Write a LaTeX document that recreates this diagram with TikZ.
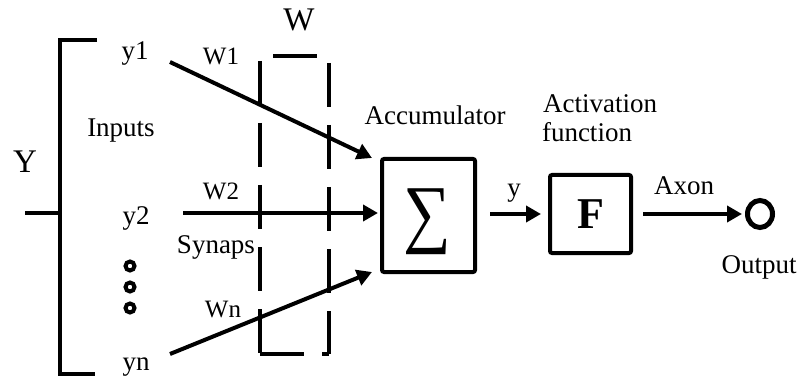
\documentclass[tikz,border=0pt]{standalone}
\usepackage{fontspec}
\setmainfont{Liberation Serif}
\usetikzlibrary{arrows.meta,shapes.geometric}
\begin{document}
\begin{tikzpicture}[x=1pt,y=-1pt,
  lbl/.style={anchor=base,inner sep=0pt,font=\fontsize{27}{30}\selectfont},
  wlbl/.style={anchor=base,inner sep=0pt,font=\fontsize{25}{28}\selectfont},
  big/.style={anchor=base,inner sep=0pt,font=\fontsize{33}{36}\selectfont},
  heavy/.style={line width=4pt},
  arr/.style={line width=4pt,-{Triangle[length=15pt,width=16pt]}},
  box/.style={draw,line width=4pt,rounded corners=2pt,inner sep=0pt},
  dashline/.style={line width=4pt,dash pattern=on 44pt off 18pt},
  dotring/.style={circle,draw,line width=4pt,minimum size=9pt,inner sep=0pt},
]
\useasboundingbox (0,0) rectangle (802,379);

% bracket of inputs
\draw[heavy] (97,40) -- (60,40) -- (60,374) -- (95,374);
\draw[heavy] (25,213) -- (60,213);

% labels
\node[big] (Y) at (25,173) {Y};
\node[big] (W) at (299,31) {W};
\node[lbl] (y1) at (135,60) {y1};
\node[lbl] (y2) at (136,225) {y2};
\node[lbl] (yn) at (136,370) {yn};
\node[lbl] (inputs) at (121,137) {Inputs};
\node[wlbl] (w1) at (221,65) {W1};
\node[wlbl] (w2) at (221,200) {W2};
\node[wlbl] (wn) at (223,317) {Wn};
\node[lbl] (syn) at (216,253) {Synaps};
\node[lbl] (acc) at (435,125) {Accumulator};
\node[lbl] (act) at (600,113) {Activation};
\node[lbl] (fun) at (587,142) {function};
\node[lbl] (ylab) at (514,197) {y};
\node[lbl] (axon) at (684,195) {Axon};
\node[lbl] (out) at (759,273) {Output};

% dots
\node[dotring] (d1) at (130,266) {};
\node[dotring] (d2) at (130,287) {};
\node[dotring] (d3) at (130,308) {};

% dashed weight box
\draw[dashline,dash phase=49pt] (260,56) -- (329,56);
\draw[dashline,dash phase=57pt] (260,56) -- (260,354);
\draw[dashline,dash phase=55pt] (329,56) -- (329,354);
\draw[dashline] (260,354) -- (329,354);

% boxes
\node[box,minimum width=93pt,minimum height=113pt] (sum) at (428.5,215.5) {};
\node[inner sep=0pt] (sig) at (427.5,222) {\scalebox{0.88}[1]{\fontsize{76}{76}\selectfont ∑}};
\node[box,minimum width=81pt,minimum height=78pt,font=\bfseries\fontsize{44}{44}\selectfont] (F) at (590.5,214) {F};
\node[ellipse,draw,line width=5pt,minimum width=25pt,minimum height=27pt,inner sep=0pt] (o) at (760,214) {};

% connectors
\coordinate (s1) at (170,62);
\coordinate (t1) at (372,158);
\coordinate (s2) at (183,213);
\coordinate (t2) at (378,213);
\coordinate (sn) at (170,354);
\coordinate (tn) at (372,272);
\draw[arr] (s1) -- (t1);
\draw[arr] (s2) -- (t2);
\draw[arr] (sn) -- (tn);
\draw[arr,shorten <=13pt,shorten >=7pt] (sum.east |- F.west) -- (F.west);
\draw[arr,shorten <=10pt,shorten >=3pt] (F.east) -- (o.west);
\end{tikzpicture}
\end{document}
